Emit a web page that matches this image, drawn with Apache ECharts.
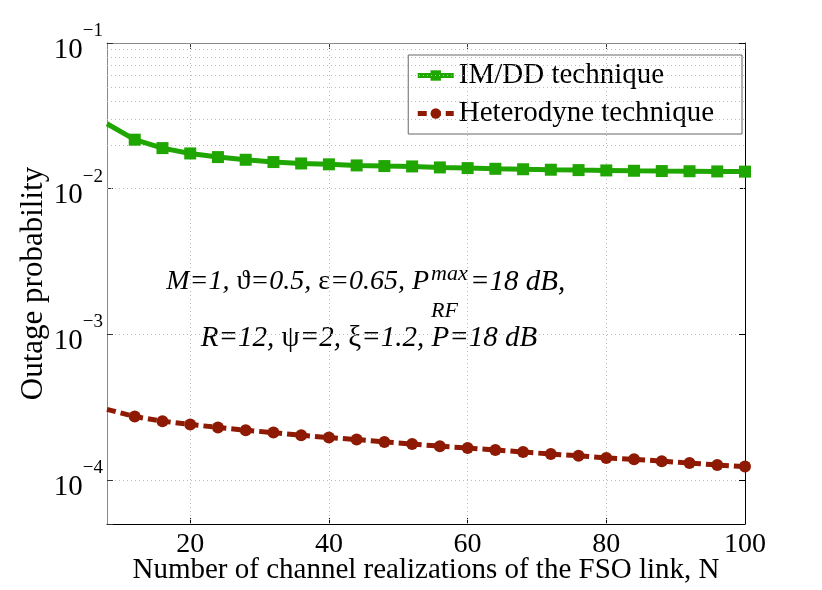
<!DOCTYPE html>
<html>
<head>
<meta charset="utf-8">
<script src="https://cdn.jsdelivr.net/npm/echarts@6/dist/echarts.min.js"></script>
<style>
html, body { margin: 0; padding: 0; background: #fff; }
#outageChart { width: 822px; height: 590px; }
</style>
</head>
<body>
<div id="outageChart"></div>
<script>
// data
var nVals = [8, 12, 16, 20, 24, 28, 32, 36, 40, 44, 48, 52, 56, 60, 64, 68, 72, 76, 80, 84, 88, 92, 96, 100];
var imddVals = [0.0279, 0.0217, 0.0190, 0.01746, 0.01648, 0.0158, 0.01524, 0.0149, 0.0147, 0.01445, 0.0143, 0.01422,
	0.0140, 0.01385, 0.0137, 0.0136, 0.0135, 0.01342, 0.01335, 0.01328, 0.01322, 0.01318, 0.01314, 0.0131];
var hetVals = [3.06e-4, 2.73e-4, 2.54e-4, 2.41e-4, 2.30e-4, 2.20e-4, 2.12e-4, 2.03e-4, 1.96e-4, 1.90e-4, 1.83e-4, 1.77e-4,
	1.71e-4, 1.66e-4, 1.61e-4, 1.56e-4, 1.51e-4, 1.47e-4, 1.42e-4, 1.39e-4, 1.35e-4, 1.31e-4, 1.27e-4, 1.24e-4];
var xTicks = [20, 40, 60, 80, 100];
var xGrid = [20, 40, 60, 80];
var yMinor = [6e-5, 7e-5, 8e-5, 9e-5, 2e-4, 3e-4, 4e-4, 5e-4, 6e-4, 7e-4, 8e-4, 9e-4,
	2e-3, 3e-3, 4e-3, 5e-3, 6e-3, 7e-3, 8e-3, 9e-3, 2e-2, 3e-2, 4e-2, 5e-2, 6e-2, 7e-2, 8e-2, 9e-2];
var legendNames = ['IM/DD technique', 'Heterodyne technique'];

var serif = '"Liberation Serif", "DejaVu Serif", serif';
var green = '#1fa600';
var red = '#8e1a04';

function toPoints(vals) {
	var pts = [];
	for (var i = 0; i < nVals.length; i++) {
		// the first point (N=8) has no marker in the figure
		if (i == 0) pts.push({ value: [nVals[i], vals[i]], symbol: 'none' });
		else pts.push([nVals[i], vals[i]]);
	}
	return pts;
}

var gridLines = [];
for (var i = 0; i < yMinor.length; i++) gridLines.push({ yAxis: yMinor[i] });
for (var j = 0; j < xGrid.length; j++) gridLines.push({ xAxis: xGrid[j] });

function powLabel(v) {
	var e = Math.round(Math.log(v) / Math.LN10);
	if (Math.abs(Math.log(v) / Math.LN10 - e) > 1e-6) return '';
	return '{b|10}{s|\u2212' + Math.abs(e) + '}';
}

var chart = echarts.init(document.getElementById('outageChart'));

var option = {
	animation: false,
	backgroundColor: '#fff',
	grid: { left: 107, right: 77, top: 43, bottom: 66, outerBoundsMode: 'none' },
	legend: {
		data: legendNames,
		orient: 'vertical',
		right: 80,
		top: 55,
		padding: [6, 28, 6, 7],
		itemGap: 9,
		itemWidth: 36,
		itemHeight: 13,
		backgroundColor: '#fff',
		borderColor: '#666',
		borderWidth: 1,
		borderRadius: 0,
		lineStyle: { width: 5 },
		textStyle: { fontFamily: serif, fontSize: 29, color: '#000' }
	},
	xAxis: [{
		type: 'value',
		min: 8,
		max: 100,
		axisLine: { lineStyle: { color: '#000', width: 1 } },
		axisTick: { inside: true, length: 6, customValues: xTicks, lineStyle: { color: '#000' } },
		axisLabel: { customValues: xTicks, fontFamily: serif, fontSize: 28, color: '#000', margin: 7 },
		splitLine: { show: false },
		name: 'Number of channel realizations of the FSO link, N',
		nameLocation: 'middle',
		nameGap: 32,
		nameMoveOverlap: false,
		nameTextStyle: { fontFamily: serif, fontSize: 29, color: '#000' }
	}, {
		type: 'value',
		position: 'top',
		min: 8,
		max: 100,
		axisLine: { lineStyle: { color: '#888' } },
		axisTick: { inside: true, length: 6, customValues: xTicks, lineStyle: { color: '#333' } },
		axisLabel: { show: false },
		splitLine: { show: false }
	}],
	yAxis: [{
		type: 'log',
		logBase: 10,
		min: 5e-5,
		max: 0.1,
		splitNumber: 3,
		axisLine: { show: true, lineStyle: { color: '#888' } },
		axisTick: { show: true, inside: true, length: 6, lineStyle: { color: '#333' } },
		axisLabel: {
			fontFamily: serif, color: '#000', margin: 4,
			showMinLabel: true,
			formatter: powLabel,
			rich: {
				b: { fontFamily: serif, fontSize: 29, color: '#000', verticalAlign: 'bottom', padding: [14, 0, 0, 0] },
				s: { fontFamily: serif, fontSize: 19, color: '#000', verticalAlign: 'top', padding: [0, 0, 16, 0] }
			}
		},
		splitLine: { show: true, lineStyle: { color: '#bbb', type: [1, 3] } },
		name: 'Outage probability',
		nameLocation: 'middle',
		nameGap: 58,
		nameMoveOverlap: false,
		nameTextStyle: { fontFamily: serif, fontSize: 31, color: '#000' }
	}, {
		type: 'log',
		logBase: 10,
		min: 5e-5,
		max: 0.1,
		splitNumber: 3,
		position: 'right',
		axisLine: { show: true, lineStyle: { color: '#000' } },
		axisTick: { show: true, inside: true, length: 6, lineStyle: { color: '#000' } },
		axisLabel: { show: false },
		splitLine: { show: false }
	}],
	series: [
		{
			name: 'grid',
			type: 'line',
			data: [],
			silent: true,
			markLine: {
				silent: true,
				symbol: 'none',
				label: { show: false },
				lineStyle: { color: '#bbb', type: [1, 3], width: 1 },
				data: gridLines
			}
		},
		{
			name: legendNames[0],
			type: 'line',
			data: toPoints(imddVals),
			symbol: 'rect',
			symbolSize: 12,
			showAllSymbol: true,
			z: 5,
			lineStyle: { color: green, width: 5 },
			itemStyle: { color: green }
		},
		{
			name: legendNames[1],
			type: 'line',
			data: toPoints(hetVals),
			symbol: 'circle',
			symbolSize: 12,
			showAllSymbol: true,
			z: 5,
			lineStyle: { color: red, width: 5, type: [9, 5] },
			itemStyle: { color: red }
		}
	],
	graphic: [
		{
			type: 'text', x: 429, y: 282,
			style: {
				text: '{i|M=1, }{g|\u03d1}{i|=0.5, }{g|\u03b5}{i|=0.65, P}',
				align: 'right', verticalAlign: 'middle',
				rich: {
					i: { fontFamily: serif, fontStyle: 'italic', fontSize: 28, fill: '#000' },
					g: { fontFamily: serif, fontSize: 28, fill: '#000' }
				}
			}
		},
		{
			type: 'text', x: 431, y: 274,
			style: { text: 'max', align: 'left', verticalAlign: 'middle', font: 'italic 22px ' + serif, fill: '#000' }
		},
		{
			type: 'text', x: 431, y: 311,
			style: { text: 'RF', align: 'left', verticalAlign: 'middle', font: 'italic 22px ' + serif, fill: '#000' }
		},
		{
			type: 'text', x: 470, y: 282,
			style: { text: '=18 dB,', align: 'left', verticalAlign: 'middle', font: 'italic 29px ' + serif, fill: '#000' }
		},
		{
			type: 'text', x: 369, y: 338,
			style: {
				text: '{i|R=12, }{g|\u03c8}{i|=2, }{g|\u03be}{i|=1.2, P=18 dB}',
				align: 'center', verticalAlign: 'middle',
				rich: {
					i: { fontFamily: serif, fontStyle: 'italic', fontSize: 29, fill: '#000' },
					g: { fontFamily: serif, fontSize: 29, fill: '#000' }
				}
			}
		}
	]
};

chart.setOption(option);
</script>
</body>
</html>
